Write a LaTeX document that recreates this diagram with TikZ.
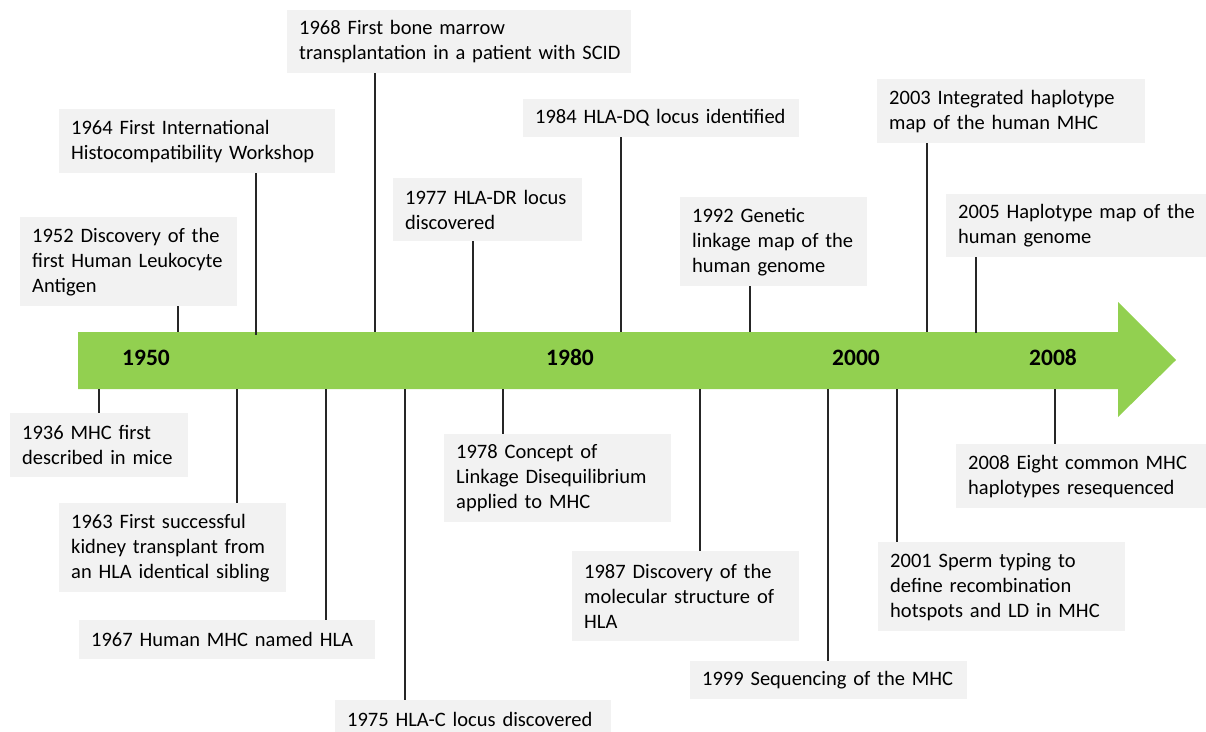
\documentclass[tikz,border=0pt]{standalone}
\usepackage{fontspec}
\setmainfont{Carlito}
\definecolor{tlgreen}{HTML}{92D050}
\definecolor{boxgray}{HTML}{F2F2F2}
\begin{document}
\begin{tikzpicture}[x=1pt,y=-1pt,
  evbox/.style={fill=boxgray, draw=none, align=left, inner xsep=12pt, inner ysep=0pt, anchor=north west, font=\fontsize{20.5}{25}\selectfont},
  conn/.style={line width=1.1pt, draw=black!85},
  yearlbl/.style={font=\fontsize{23.5}{28}\selectfont\bfseries, inner sep=0pt, anchor=center}]
\useasboundingbox (0,0) rectangle (1206,731);
\clip (0,0) rectangle (1206,731);

% timeline arrow
\fill[tlgreen] (78,332) -- (1118,332) -- (1118,302) -- (1176,360) -- (1118,417) -- (1118,389) -- (78,389) -- cycle;

% year labels
\node[yearlbl] (y1950) at (146,357.5) {1950};
\node[yearlbl] (y1980) at (570,357.5) {1980};
\node[yearlbl] (y2000) at (856,357.5) {2000};
\node[yearlbl] (y2008) at (1053,357.5) {2008};

% boxes above
\node[evbox, text width=320pt, minimum height=63pt] (b1968) at (287,10) {\mbox{1968 First bone marrow}\\\mbox{transplantation in a patient with SCID}};
\node[evbox, text width=252pt, minimum height=64pt] (b1964) at (59,109) {1964 First International\\Histocompatibility Workshop};
\node[evbox, text width=193pt, minimum height=89pt] (b1952) at (20,217) {1952 Discovery of the\\first Human Leukocyte\\Antigen};
\node[evbox, text width=165pt, minimum height=63pt] (b1977) at (393,178) {1977 HLA-DR locus\\discovered};
\node[evbox, text width=252pt, minimum height=38pt] (b1984) at (523,99) {1984 HLA-DQ locus identified};
\node[evbox, text width=163pt, minimum height=89pt] (b1992) at (680,197) {1992 Genetic\\linkage map of the\\human genome};
\node[evbox, text width=244pt, minimum height=64pt] (b2003) at (877,79) {2003 Integrated haplotype\\map of the human MHC};
\node[evbox, text width=256pt, minimum height=63pt] (b2005) at (946,194) {2005 Haplotype map of the\\human genome};

% boxes below
\node[evbox, text width=154pt, minimum height=64pt] (b1936) at (10,413) {1936 MHC first\\described in mice};
\node[evbox, text width=203pt, minimum height=89pt] (b1963) at (59,503) {1963 First successful\\kidney transplant from\\an HLA identical sibling};
\node[evbox, text width=272pt, minimum height=39pt] (b1967) at (79,620) {1967 Human MHC named HLA};
\node[evbox, text width=252pt, minimum height=38pt] (b1975) at (335,700) {1975 HLA-C locus discovered};
\node[evbox, text width=203pt, minimum height=88pt] (b1978) at (444,434) {1978 Concept of\\Linkage Disequilibrium\\applied to MHC};
\node[evbox, text width=203pt, minimum height=90pt] (b1987) at (572,551) {1987 Discovery of the\\molecular structure of\\HLA};
\node[evbox, text width=253pt, minimum height=38pt] (b1999) at (690,661) {1999 Sequencing of the MHC};
\node[evbox, text width=223pt, minimum height=89pt] (b2001) at (878,542) {2001 Sperm typing to\\define recombination\\hotspots and LD in MHC};
\node[evbox, text width=246pt, minimum height=64pt] (b2008) at (956,444) {2008 Eight common MHC\\haplotypes resequenced};

% anchor points on the arrow
\coordinate (a1952) at (178,332);
\coordinate (a1964) at (256,335);
\coordinate (a1968) at (375,332);
\coordinate (a1977) at (473,332);
\coordinate (a1984) at (621,332);
\coordinate (a1992) at (750,332);
\coordinate (a2003) at (927,332);
\coordinate (a2005) at (976,333);
\coordinate (a1936) at (99,389);
\coordinate (a1963) at (237,389);
\coordinate (a1967) at (326,389);
\coordinate (a1975) at (405,389);
\coordinate (a1978) at (503,389);
\coordinate (a1987) at (700,389);
\coordinate (a1999) at (828,389);
\coordinate (a2001) at (897,389);
\coordinate (a2008) at (1055,389);

% connectors
\foreach \e in {1952,1964,1968,1977,1984,1992,2003,2005}{
  \draw[conn] (b\e.south -| a\e) -- (a\e);
}
\foreach \e in {1936,1963,1967,1975,1978,1987,1999,2001,2008}{
  \draw[conn] (a\e) -- (b\e.north -| a\e);
}
\end{tikzpicture}
\end{document}
